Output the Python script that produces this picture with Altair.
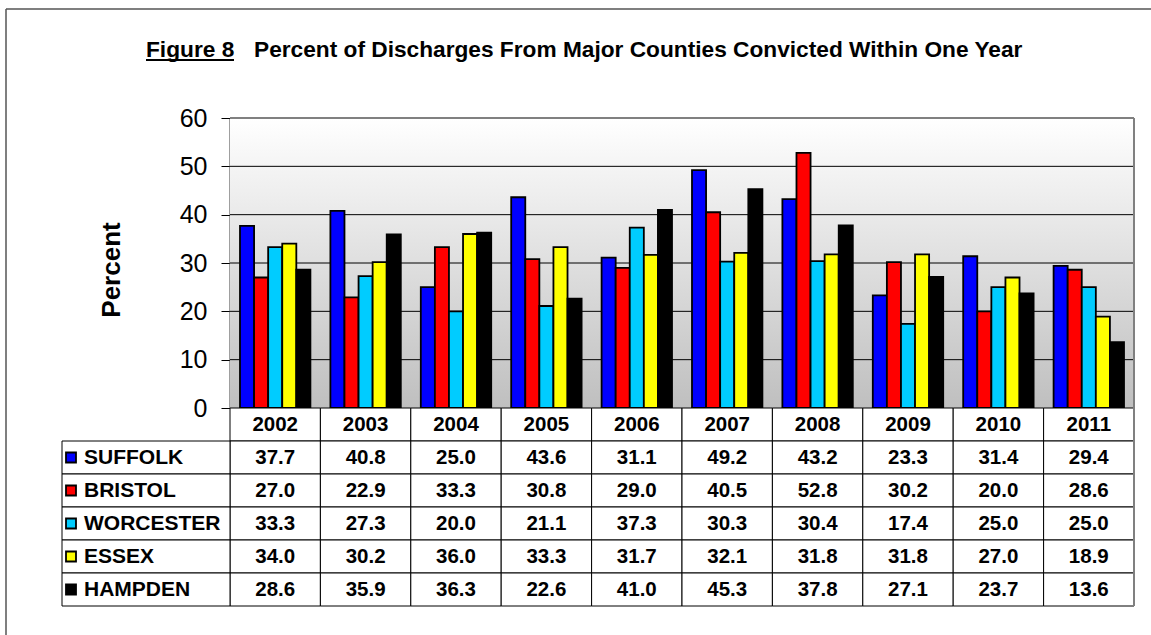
import altair as alt
import pandas as pd

years = ["2002", "2003", "2004", "2005", "2006", "2007", "2008", "2009", "2010", "2011"]
counties = ["SUFFOLK", "BRISTOL", "WORCESTER", "ESSEX", "HAMPDEN"]
colors = ["#0000FF", "#FF0000", "#00CCFF", "#FFFF00", "#000000"]

suffolk = [37.7, 40.8, 25.0, 43.6, 31.1, 49.2, 43.2, 23.3, 31.4, 29.4]
bristol = [27.0, 22.9, 33.3, 30.8, 29.0, 40.5, 52.8, 30.2, 20.0, 28.6]
worcester = [33.3, 27.3, 20.0, 21.1, 37.3, 30.3, 30.4, 17.4, 25.0, 25.0]
essex = [34.0, 30.2, 36.0, 33.3, 31.7, 32.1, 31.8, 31.8, 27.0, 18.9]
hampden = [28.6, 35.9, 36.3, 22.6, 41.0, 45.3, 37.8, 27.1, 23.7, 13.6]

y_ticks = [0, 10, 20, 30, 40, 50, 60]
grid_ticks = [10, 20, 30, 40, 50]
title_fig = "Figure 8"
title_rest = "Percent of Discharges From Major Counties Convicted Within One Year"
y_title = "Percent"

series = [suffolk, bristol, worcester, essex, hampden]
rows = []
for c, vals in zip(counties, series):
    for y, v in zip(years, vals):
        rows.append({"county": c, "year": y, "value": v})
df = pd.DataFrame(rows)

table_rows = ["header"] + counties
header_df = pd.DataFrame({"year": years, "row": ["header"] * len(years)})
cells_df = pd.concat([
    header_df,
    pd.DataFrame([{"year": r["year"], "row": r["county"]} for r in rows]),
])
legend_df = pd.DataFrame({"county": counties})

W, H = 904, 290
FONT = "Liberation Sans"

xscale = alt.Scale(domain=years, paddingInner=0, paddingOuter=0)
yscale = alt.Scale(domain=[0, 60], nice=False)
tscale = alt.Scale(type="band", domain=table_rows, range=[290, 488], paddingInner=0, paddingOuter=0)
cscale = alt.Scale(domain=counties, range=colors)

yaxis = alt.Axis(values=y_ticks, title=None, grid=False,
                 labelFont=FONT, labelFontSize=25, labelColor="#000000",
                 labelPadding=14, tickSize=9, tickColor="#000000", tickWidth=1,
                 domainColor="#404040", domainWidth=2)

one = pd.DataFrame({"a": [1]})

background = alt.Chart(one).mark_rect(
    fill=alt.Gradient(
        gradient="linear",
        stops=[alt.GradientStop(color="#ffffff", offset=0),
               alt.GradientStop(color="#bfbfbf", offset=1)],
        x1=0, x2=0, y1=0, y2=1,
    )
).encode(x=alt.value(0), x2=alt.value(W), y=alt.value(0), y2=alt.value(H))

grid = alt.Chart(pd.DataFrame({"v": grid_ticks})).mark_rule(color="#000000", strokeWidth=1).encode(
    y=alt.Y("v:Q", scale=yscale, axis=yaxis),
    x=alt.value(0), x2=alt.value(W),
)

bars = alt.Chart(df).mark_bar(stroke="#000000", strokeWidth=1.8).encode(
    x=alt.X("year:N", scale=xscale, axis=None, sort=years),
    xOffset=alt.XOffset("county:N", sort=counties,
                        scale=alt.Scale(paddingOuter=0.71, paddingInner=0)),
    y=alt.Y("value:Q", scale=yscale, axis=yaxis),
    color=alt.Color("county:N", scale=cscale, legend=None),
)

plot_group = alt.layer(grid, bars)

cells = alt.Chart(cells_df).mark_rect(fill="#ffffff", stroke="#000000", strokeWidth=1).encode(
    x=alt.X("year:N", scale=xscale, axis=None, sort=years),
    y=alt.Y("row:N", scale=tscale, axis=None),
)
legend_cells = alt.Chart(legend_df).mark_rect(fill="#ffffff", stroke="#000000", strokeWidth=1).encode(
    x=alt.value(-168), x2=alt.value(0),
    y=alt.Y("county:N", scale=tscale, axis=None),
)
squares = alt.Chart(legend_df).mark_square(size=100, stroke="#000000", strokeWidth=1.8, opacity=1).encode(
    x=alt.value(-159),
    y=alt.Y("county:N", scale=tscale, axis=None),
    color=alt.Color("county:N", scale=cscale, legend=None),
)
legend_text = alt.Chart(legend_df).mark_text(
    align="left", baseline="middle", font=FONT, fontSize=21, fontWeight="bold", color="#000000"
).encode(
    x=alt.value(-146),
    y=alt.Y("county:N", scale=tscale, axis=None),
    text="county:N",
)
value_text = alt.Chart(df).mark_text(
    align="center", baseline="middle", font=FONT, fontSize=20.5, fontWeight="bold", color="#000000"
).encode(
    x=alt.X("year:N", scale=xscale, axis=None, sort=years),
    y=alt.Y("county:N", scale=tscale, axis=None),
    text=alt.Text("value:Q", format=".1f"),
)
header_text = alt.Chart(header_df).mark_text(
    align="center", baseline="middle", font=FONT, fontSize=20.5, fontWeight="bold", color="#000000"
).encode(
    x=alt.X("year:N", scale=xscale, axis=None, sort=years),
    y=alt.Y("row:N", scale=tscale, axis=None),
    text="year:N",
)
table_group = alt.layer(cells, legend_cells, squares, legend_text, value_text, header_text)

top_border = alt.Chart(one).mark_rule(color="#808080", strokeWidth=2).encode(
    x=alt.value(0), x2=alt.value(W), y=alt.value(0))
right_border = alt.Chart(one).mark_rule(color="#808080", strokeWidth=2).encode(
    x=alt.value(W), y=alt.value(0), y2=alt.value(488))
frame_left = alt.Chart(one).mark_rule(color="#555555", strokeWidth=1.5).encode(
    x=alt.value(-224), y=alt.value(-109), y2=alt.value(520))
frame_top = alt.Chart(one).mark_rule(color="#555555", strokeWidth=1.5).encode(
    x=alt.value(-224), x2=alt.value(925), y=alt.value(-109))

t1 = alt.Chart(pd.DataFrame({"t": [title_fig]})).mark_text(
    align="left", baseline="alphabetic", font=FONT, fontSize=22.7, fontWeight="bold", color="#000000"
).encode(x=alt.value(-84), y=alt.value(-61), text="t:N")
underline = alt.Chart(one).mark_rule(color="#000000", strokeWidth=2).encode(
    x=alt.value(-84), x2=alt.value(4), y=alt.value(-58))
t2 = alt.Chart(pd.DataFrame({"t": [title_rest]})).mark_text(
    align="left", baseline="alphabetic", font=FONT, fontSize=22.7, fontWeight="bold", color="#000000"
).encode(x=alt.value(24), y=alt.value(-61), text="t:N")
ytitle = alt.Chart(pd.DataFrame({"t": [y_title]})).mark_text(
    align="center", baseline="middle", angle=270, font=FONT, fontSize=26, fontWeight="bold", color="#000000"
).encode(x=alt.value(-118), y=alt.value(152), text="t:N")

chart = alt.layer(
    background, plot_group, table_group,
    top_border, right_border, frame_left, frame_top, t1, underline, t2, ytitle,
).resolve_scale(y="independent").properties(
    width=W, height=H,
    padding={"left": 230, "top": 118, "right": 17, "bottom": 227},
    autosize=alt.AutoSizeParams(type="none"),
    background="#ffffff",
).configure_view(stroke=None)

chart.save("out.html", embed_options={"renderer": "svg", "actions": False})
